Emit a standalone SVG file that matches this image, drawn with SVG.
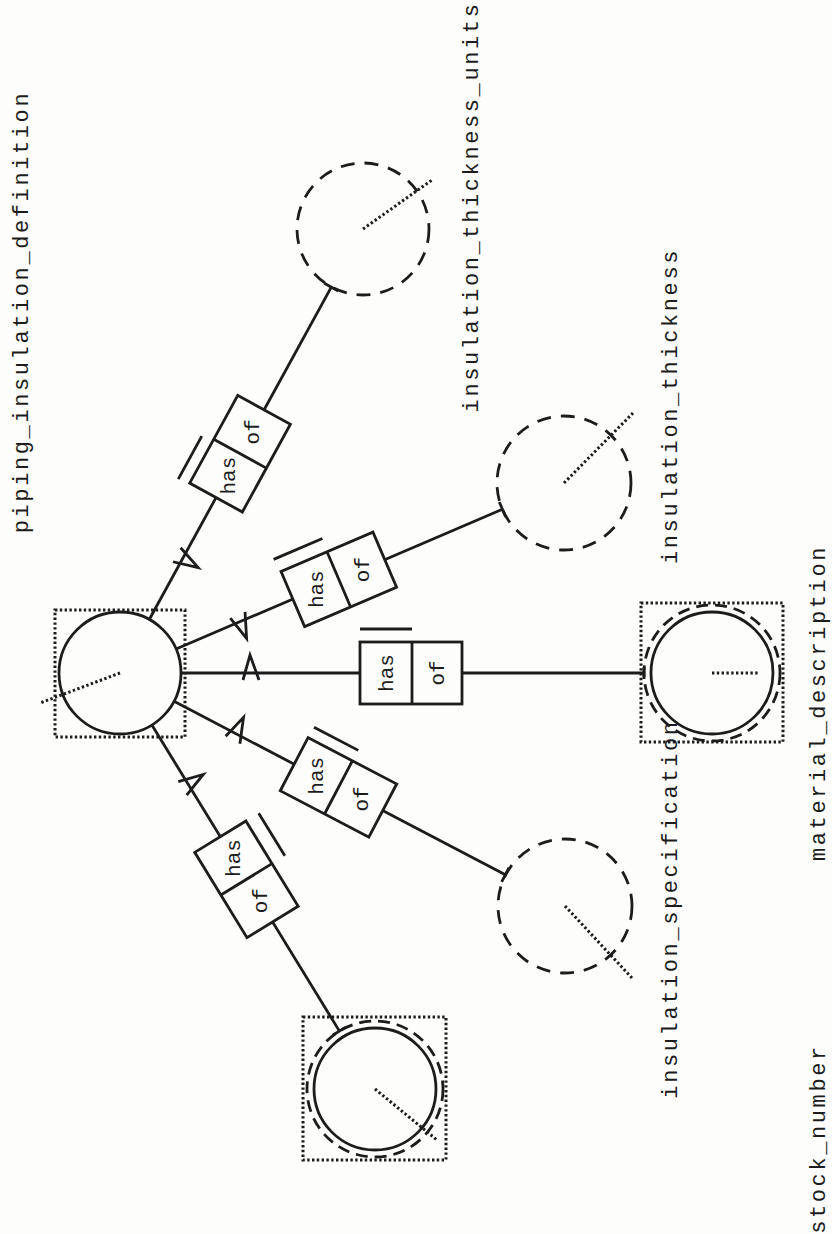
<svg xmlns="http://www.w3.org/2000/svg" width="832" height="1234" viewBox="0 0 832 1234">
<style>
.ln{stroke:#1c1c1c;stroke-width:2.8;fill:none;stroke-linecap:butt}
.dot{stroke:#1c1c1c;stroke-width:3;fill:none;stroke-dasharray:2.4 2.4}
.dash{stroke:#1c1c1c;stroke-width:2.8;fill:none;stroke-dasharray:14 10}
.dash2{stroke:#1c1c1c;stroke-width:2.8;fill:none;stroke-dasharray:12 7}
.box{stroke:#1c1c1c;stroke-width:2.8;fill:#fdfdfb}
.lbl{font-family:"Liberation Mono","DejaVu Sans Mono",monospace;font-size:22px;letter-spacing:2.6px;fill:#1c1c1c;text-anchor:middle}
.rt{font-family:"Liberation Mono","DejaVu Sans Mono",monospace;font-size:21px;fill:#1c1c1c;text-anchor:middle}
</style>
<rect width="832" height="1234" fill="#fdfdfb"/>

<g id="connectors">
  <g transform="translate(120,673) rotate(-61.3)">
    <line class="ln" x1="61" y1="0" x2="440" y2="0"/>
    <line class="ln" x1="440" y1="-8" x2="440" y2="8"/>
    <polyline class="ln" points="123,-7 130,18 139,-7"/>
  </g>
  <g transform="translate(120,673) rotate(-23.17)">
    <line class="ln" x1="61" y1="0" x2="416" y2="0"/>
    <line class="ln" x1="416" y1="-8" x2="416" y2="8"/>
    <polyline class="ln" points="123,-7 130,18 139,-7"/>
  </g>
  <g transform="translate(120,673)">
    <line class="ln" x1="61" y1="0" x2="524" y2="0"/>
    <line class="ln" x1="524" y1="-6" x2="524" y2="6"/>
    <polyline class="ln" points="123,7 130,-18 139,7"/>
  </g>
  <g transform="translate(120,673) rotate(27.64)">
    <line class="ln" x1="61" y1="0" x2="435" y2="0"/>
    <line class="ln" x1="435" y1="-8" x2="435" y2="8"/>
    <polyline class="ln" points="123,7 130,-18 139,7"/>
  </g>
  <g transform="translate(120,673) rotate(58.5)">
    <line class="ln" x1="61" y1="0" x2="420" y2="0"/>
    <line class="ln" x1="420" y1="-8" x2="420" y2="8"/>
    <polyline class="ln" points="123,7 130,-18 139,7"/>
  </g>
</g>

<g id="rel-units" transform="translate(120,673) rotate(-61.3)">
  <rect class="box" x="200" y="-30" width="100" height="60"/>
  <line class="ln" x1="250" y1="-30" x2="250" y2="30"/>
  <line class="ln" x1="198" y1="-42" x2="247" y2="-42"/>
  <text class="rt" transform="translate(225,0) rotate(-28.7)" y="7">has</text>
  <text class="rt" transform="translate(275,0) rotate(-28.7)" y="7">of</text>
</g>
<g id="rel-thickness" transform="translate(120,673) rotate(-23.17)">
  <rect class="box" x="188" y="-30" width="100" height="60"/>
  <line class="ln" x1="238" y1="-30" x2="238" y2="30"/>
  <line class="ln" x1="186" y1="-44" x2="239" y2="-44"/>
  <text class="rt" transform="translate(213,0) rotate(-66.83)" y="7">has</text>
  <text class="rt" transform="translate(263,0) rotate(-66.83)" y="7">of</text>
</g>
<g id="rel-material" transform="translate(120,673)">
  <rect class="box" x="240" y="-31" width="102" height="62"/>
  <line class="ln" x1="292" y1="-31" x2="292" y2="31"/>
  <line class="ln" x1="240" y1="-44" x2="292" y2="-44"/>
  <text class="rt" transform="translate(266,0) rotate(-90)" y="7">has</text>
  <text class="rt" transform="translate(317,0) rotate(-90)" y="7">of</text>
</g>
<g id="rel-specification" transform="translate(120,673) rotate(27.64)">
  <rect class="box" x="196.6" y="-30" width="100" height="60"/>
  <line class="ln" x1="246.6" y1="-30" x2="246.6" y2="30"/>
  <line class="ln" x1="197" y1="-42" x2="247" y2="-42"/>
  <text class="rt" transform="translate(221.6,0) rotate(-117.64)" y="7">has</text>
  <text class="rt" transform="translate(271.6,0) rotate(-117.64)" y="7">of</text>
</g>
<g id="rel-stock" transform="translate(120,673) rotate(58.5)">
  <rect class="box" x="192" y="-30" width="100" height="60"/>
  <line class="ln" x1="242" y1="-30" x2="242" y2="30"/>
  <line class="ln" x1="192" y1="-45" x2="242" y2="-45"/>
  <text class="rt" transform="translate(217,0) rotate(-148.5)" y="7">has</text>
  <text class="rt" transform="translate(267,0) rotate(-148.5)" y="7">of</text>
</g>

<g id="piping_insulation_definition">
  <rect class="dot" x="55" y="610" width="130" height="127"/>
  <circle class="ln" cx="120" cy="673" r="61"/>
  <line class="dot" x1="120" y1="673" x2="40" y2="703"/>
  <text class="lbl" transform="translate(28,312) rotate(-90)">piping_insulation_definition</text>
</g>

<g id="insulation_thickness_units">
  <circle class="dash" cx="363" cy="229" r="66"/>
  <line class="dot" x1="363" y1="229" x2="432" y2="180"/>
  <text class="lbl" transform="translate(478,207) rotate(-90)">insulation_thickness_units</text>
</g>

<g id="insulation_thickness">
  <circle class="dash" cx="564" cy="483" r="67"/>
  <line class="dot" x1="564" y1="483" x2="633" y2="413"/>
  <text class="lbl" transform="translate(677,406) rotate(-90)">insulation_thickness</text>
</g>

<g id="material_description">
  <rect class="dot" x="641" y="603" width="142" height="139"/>
  <circle class="dash2" cx="712" cy="673" r="68"/>
  <circle class="ln" cx="712" cy="673" r="61"/>
  <line class="dot" x1="712" y1="673" x2="760" y2="673"/>
  <text class="lbl" transform="translate(825,703) rotate(-90)">material_description</text>
</g>

<g id="insulation_specification">
  <circle class="dash" cx="565" cy="906" r="67"/>
  <line class="dot" x1="565" y1="906" x2="632" y2="978"/>
  <text class="lbl" transform="translate(677,909) rotate(-90)">insulation_specification</text>
</g>

<g id="stock_number">
  <rect class="dot" x="303" y="1017" width="143" height="143"/>
  <circle class="dash2" cx="375" cy="1089" r="68"/>
  <circle class="ln" cx="375" cy="1089" r="61"/>
  <line class="dot" x1="375" y1="1089" x2="437" y2="1140"/>
  <text class="lbl" transform="translate(825,1139) rotate(-90)">stock_number</text>
</g>
</svg>
